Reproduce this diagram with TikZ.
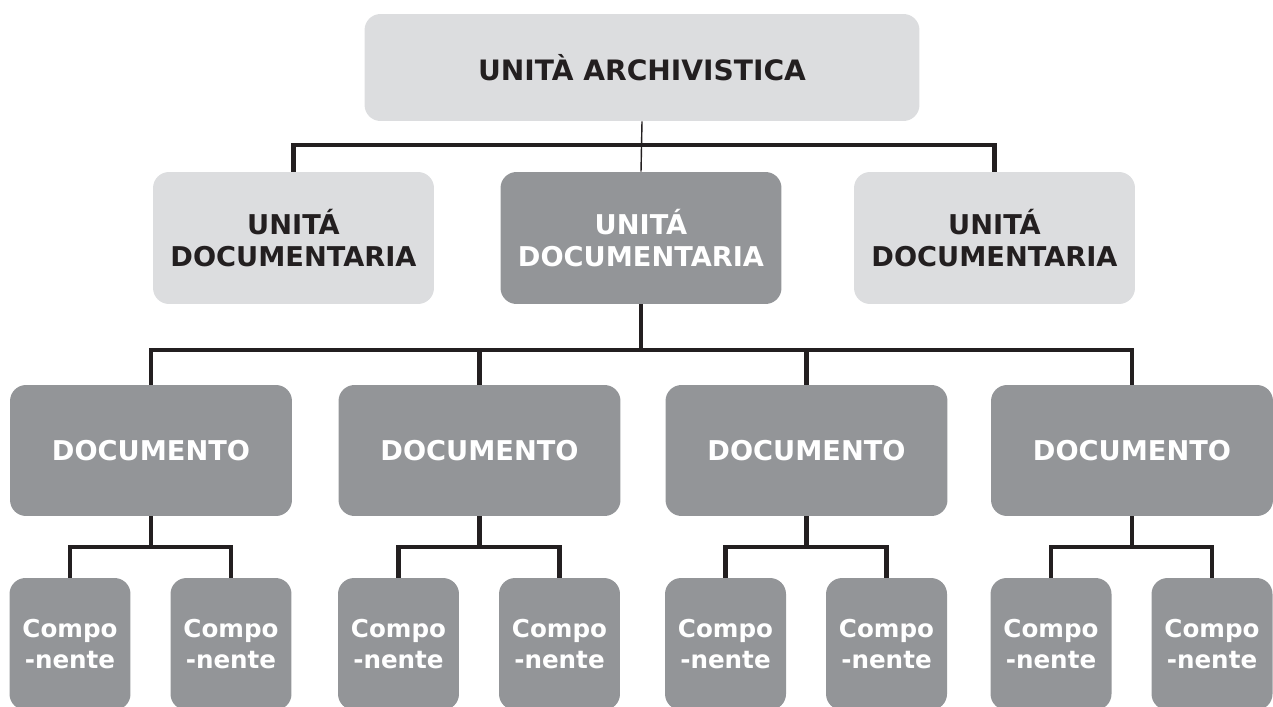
\documentclass[tikz,border=0pt]{standalone}
\usepackage{fontspec}
\setmainfont{DejaVu Sans}
\usetikzlibrary{positioning}
\definecolor{color_light}{RGB}{220,221,223}
\definecolor{color_dark}{RGB}{147,149,152}
\definecolor{color_line}{RGB}{35,31,32}

\begin{document}
\begin{tikzpicture}[x=0.02cm,y=-0.02cm,
	box/.style={rounded corners=0.32cm, inner sep=0pt, align=center,
		font=\fontsize{15.5}{18.5}\selectfont\bfseries},
	light box/.style={box, fill=color_light, text=color_line},
	dark box/.style={box, fill=color_dark, text=white},
	unit box/.style={minimum width=5.62cm, minimum height=2.64cm},
	comp box/.style={dark box, minimum width=2.42cm, minimum height=2.64cm,
		font=\fontsize{14}{17.5}\selectfont\bfseries},
	bus/.style={draw=color_line, line width=2.3pt, line join=miter},
	thin bus/.style={draw=color_line, line width=0.8pt}]
	\useasboundingbox (0,0) rectangle (1273,706);
	% ARCHIVIO
	\node[light box, minimum width=11.1cm, minimum height=2.14cm,
		font=\fontsize{16}{19}\selectfont\bfseries] (ua) at (642,67.5) {UNITÀ ARCHIVISTICA};
	% UNITA' DOCUMENTARIE
	\node[light box, unit box] (ud1) at (293.5,238) {UNITÁ\\DOCUMENTARIA};
	\node[dark box, unit box]  (ud2) at (641,238)   {UNITÁ\\DOCUMENTARIA};
	\node[light box, unit box] (ud3) at (994.5,238) {UNITÁ\\DOCUMENTARIA};
	\coordinate (j1) at (642,145);
	\coordinate (j2) at (641,350);
	\draw[thin bus] (ua.south) -- (ud2.north);
	\draw[bus] (ud1.north) |- (j1) -| (ud3.north);
	\draw[bus] (ud2.south) -- (j2);
	% DOCUMENTI E COMPONENTI
	\foreach \i/\x in {1/151, 2/479.5, 3/806.5, 4/1132} {
		\node[dark box, minimum width=5.64cm, minimum height=2.62cm] (doc\i) at (\x,450.5) {DOCUMENTO};
		\node[comp box] (comp\i a) at (\x-81,644) {Compo\\-nente};
		\node[comp box] (comp\i b) at (\x+80,644) {Compo\\-nente};
		\coordinate (k\i) at (\x,547);
		\draw[bus] (doc\i.north) |- (j2);
		\draw[bus] (doc\i.south) -- (k\i);
		\draw[bus] (comp\i a.north) |- (k\i) -| (comp\i b.north);
	}
\end{tikzpicture}
\end{document}
